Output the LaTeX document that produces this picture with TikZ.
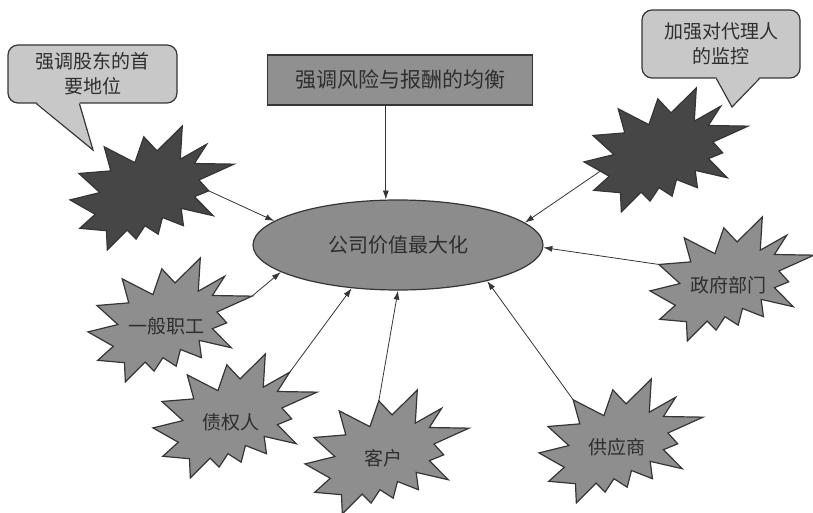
\documentclass[tikz,border=0pt]{standalone}
\usepackage{fontspec}
\setmainfont{Noto Sans CJK SC}
\usepackage{tikz}
\usetikzlibrary{shapes.geometric,arrows.meta,backgrounds}

\definecolor{burstgray}{HTML}{8E8E8E}
\definecolor{burstdark}{HTML}{464646}
\definecolor{ovalgray}{HTML}{8C8C8C}
\definecolor{boxgray}{HTML}{909090}
\definecolor{calloutgray}{HTML}{C8C8C8}
\definecolor{edgegray}{HTML}{353535}
\definecolor{inkgray}{HTML}{2E2E2E}

% explosion outline, 0..100 box, tips named <name>-2 ... <name>-28
\newcommand{\burst}[3]{%
  \filldraw[burstline,fill=#3,shift={(#2)},x=1.64pt,y=-1.24pt,shift={(-50,-50)}]
    (53.07,20.09) -- (45.01,8.74) coordinate (#1-2) -- (39.57,29.55)
    -- (20.85,16.79) coordinate (#1-4) -- (24.88,36.19)
    -- (5.44,38.29) coordinate (#1-6) -- (18.21,53.67)
    -- (0,59.61) coordinate (#1-8) -- (15.41,71.17)
    -- (5.94,82.52) coordinate (#1-10) -- (22.24,84.44)
    -- (22.77,100) coordinate (#1-12) -- (34.84,83.91)
    -- (40.27,91.26) coordinate (#1-14) -- (45.70,80.42)
    -- (53.77,87.24) coordinate (#1-16) -- (56.38,73.78)
    -- (69.18,80.42) coordinate (#1-18) -- (67.78,66.43)
    -- (87.40,72.37) coordinate (#1-20) -- (75.84,57.00)
    -- (84.58,52.28) coordinate (#1-22) -- (78.64,43.54)
    -- (100,30.77) coordinate (#1-24) -- (75.84,30.25)
    -- (83.36,14.69) coordinate (#1-26) -- (67.24,26.75)
    -- (68.47,0) coordinate (#1-28) -- cycle;}

\begin{document}
\begin{tikzpicture}[x=1pt,y=-1pt,
    burstline/.style={draw=edgegray,line width=1.2pt},
    party/.style={text=inkgray,font=\fontsize{19}{23}\selectfont,inner sep=0pt,xshift=-4pt,yshift=-6pt},
    note/.style={draw=edgegray,line width=1.2pt,fill=calloutgray,rounded corners=10pt,
      align=center,text=inkgray,font=\fontsize{19}{25}\selectfont,inner sep=2pt},
    link/.style={draw=edgegray,line width=0.8pt,-{Latex[length=9pt,width=6pt]}}]
  \useasboundingbox (0,0) rectangle (813,513);

  % goal and principle
  \node[draw=edgegray,line width=1.2pt,fill=boxgray,minimum width=265pt,minimum height=50pt,
    text=inkgray,font=\fontsize{21}{25}\selectfont] (risk) at (400,80) {强调风险与报酬的均衡};
  \node[ellipse,draw=edgegray,line width=1.2pt,fill=ovalgray,minimum width=290pt,minimum height=90pt,
    inner sep=0pt,text=inkgray,font=\fontsize{20}{24}\selectfont] (value) at (398,245) {公司价值最大化};

  % stakeholders
  \burst{holder}{152,188}{burstdark}
  \burst{agent}{666,150}{burstdark}
  \burst{staff}{170,320}{burstgray}
  \burst{lender}{235,416}{burstgray}
  \burst{client}{387,452}{burstgray}
  \burst{govt}{732,279}{burstgray}
  \burst{vendor}{621,441}{burstgray}
  \node[party] (holder) at (152,188) {};
  \node[party] (agent) at (666,150) {};
  \node[party] (staff) at (170,320) {一般职工};
  \node[party] (lender) at (235,416) {债权人};
  \node[party] (client) at (387,452) {客户};
  \node[party] (govt) at (732,279) {政府部门};
  \node[party] (vendor) at (621,441) {供应商};

  % callouts
  \node[note,minimum width=169pt,minimum height=58pt] (holdernote) at (92.5,74) {强调股东的首\\要地位};
  \coordinate (holdertip) at (93,150);
  \fill[calloutgray] ([xshift=29pt,yshift=1.5pt]holdernote.south west) -- (holdertip)
    -- ([xshift=72pt,yshift=1.5pt]holdernote.south west) -- cycle;
  \draw[burstline] ([xshift=29pt]holdernote.south west) -- (holdertip) -- ([xshift=72pt]holdernote.south west);

  \node[note,minimum width=158pt,minimum height=68pt] (agentnote) at (721,44) {加强对代理人\\的监控};
  \coordinate (agenttip) at (732,107);
  \fill[calloutgray] ([xshift=75pt,yshift=1.5pt]agentnote.south west) -- (agenttip)
    -- ([xshift=118pt,yshift=1.5pt]agentnote.south west) -- cycle;
  \draw[burstline] ([xshift=75pt]agentnote.south west) -- (agenttip) -- ([xshift=118pt]agentnote.south west);

  % connectors
  \begin{scope}[on background layer]
    \draw[link] (risk.south -| value.105) -- (value.105);
    \draw[link] (holder-22) -- (value.169);
    \draw[link] ([yshift=27pt]agent.center) -- (value.10);
    \draw[link] (staff-24) -- (value.193);
    \draw[link] (lender-26) -- (value.223);
    \draw[link] (client-2) -- (value.270);
    \draw[link] (vendor-4) -- (value.338);
    \draw[link] (govt-6) -- (value.359);
  \end{scope}
\end{tikzpicture}
\end{document}
